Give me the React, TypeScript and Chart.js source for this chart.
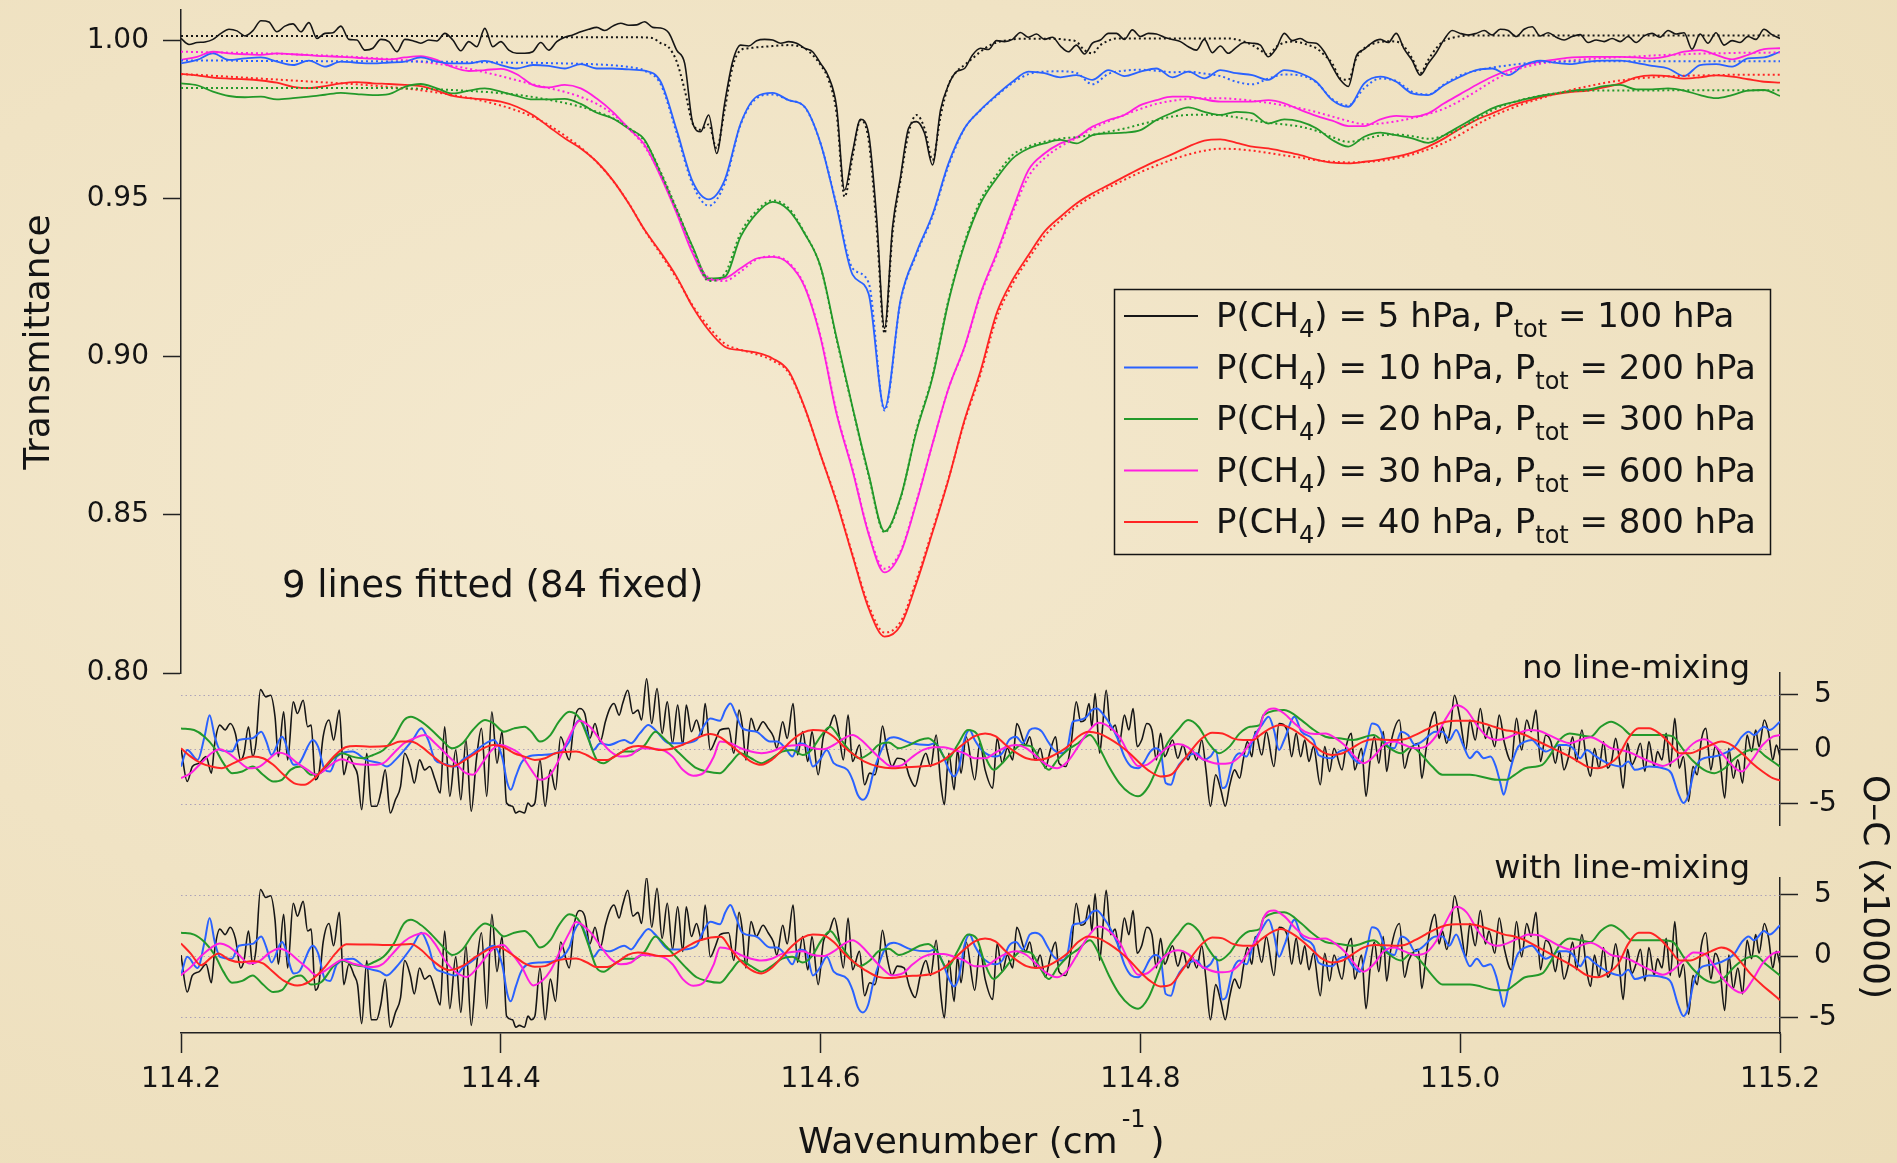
import React, { useEffect, useRef } from 'react';
import { Chart, registerables } from 'chart.js';

Chart.register(...registerables);

const W = 1897;
const H = 1163;
const FONT = '"DejaVu Sans", "Open Sans", sans-serif';
const INK = '#141414';

const C_BLACK = '#161616';
const C_BLUE = '#2a62ff';
const C_GREEN = '#23992a';
const C_MAGENTA = '#ff1fe0';
const C_RED = '#ff2424';

const X_MIN = 114.2;
const X_MAX = 115.2;
const xTicks = [114.2, 114.4, 114.6, 114.8, 115.0, 115.2];
const transTicks = [0.8, 0.85, 0.9, 0.95, 1.0];
const ocTicks = [-5, 0, 5];

const legendPCH4 = ['5', '10', '20', '30', '40'];
const legendPtot = ['100', '200', '300', '600', '800'];

// sampling grids of the transmittance spectra (cm-1)
const wnCoarse = Array.from({ length: 101 }, (_, i) => Math.round((114.2 + i * 0.01) * 1000) / 1000);
const wnFine = Array.from({ length: 201 }, (_, i) => Math.round((114.2 + i * 0.005) * 10000) / 10000);

// ---------- Transmittance, P(CH4)=5 hPa (fine grid) ----------
const transBlackObs = [
  1.0007, 0.9988, 0.9994, 0.9996, 1.0004, 1.0023, 1.0036, 1.0031, 1.0015, 1.0032,
  1.0063, 1.0059, 1.0028, 1.0046, 1.0053, 1.0028, 1.0057, 1.0007, 1.0023, 1.0025,
  1.0046, 1.0004, 1.0002, 0.9970, 0.9976, 1.0004, 0.9997, 0.9965, 1.0004, 1.0000,
  0.9992, 1.0002, 0.9999, 1.0023, 1.0002, 0.9968, 0.9997, 0.9981, 1.0039, 0.9981,
  0.9997, 0.9970, 0.9960, 0.9960, 0.9965, 0.9994, 0.9970, 0.9997, 1.0011, 1.0018,
  1.0028, 1.0036, 1.0042, 1.0032, 1.0046, 1.0055, 1.0049, 1.0050, 1.0060, 1.0042,
  1.0040, 1.0025, 0.9970, 0.9928, 0.9740, 0.9712, 0.9765, 0.9643, 0.9802, 0.9934,
  0.9986, 0.9983, 1.0000, 1.0004, 1.0002, 0.9992, 0.9997, 0.9992, 0.9976, 0.9965,
  0.9928, 0.9886, 0.9791, 0.9527, 0.9649, 0.9751, 0.9707, 0.9443, 0.9090, 0.9411,
  0.9570, 0.9723, 0.9744, 0.9707, 0.9607, 0.9781, 0.9860, 0.9902, 0.9912, 0.9955,
  0.9976, 0.9972, 1.0000, 0.9997, 1.0004, 1.0026, 1.0011, 1.0021, 1.0004, 1.0011,
  0.9983, 0.9965, 0.9986, 0.9958, 0.9992, 1.0002, 1.0023, 1.0023, 1.0004, 1.0034,
  1.0013, 1.0023, 1.0021, 1.0011, 1.0004, 0.9997, 0.9981, 0.9970, 1.0004, 0.9962,
  0.9983, 0.9960, 0.9979, 0.9994, 0.9992, 0.9986, 0.9949, 0.9976, 1.0023, 1.0000,
  1.0007, 0.9994, 0.9992, 0.9965, 0.9918, 0.9876, 0.9855, 0.9951, 0.9973, 0.9994,
  1.0004, 0.9994, 1.0023, 0.9973, 0.9937, 0.9891, 0.9928, 0.9962, 1.0004, 1.0032,
  1.0023, 1.0018, 1.0023, 1.0032, 1.0018, 1.0036, 1.0032, 1.0013, 1.0036, 1.0044,
  1.0015, 1.0025, 1.0011, 1.0002, 1.0013, 1.0019, 0.9994, 1.0002, 0.9997, 1.0007,
  0.9997, 1.0013, 0.9994, 1.0015, 1.0023, 1.0011, 1.0032, 1.0021, 1.0025, 0.9973,
  1.0021, 0.9992, 1.0025, 0.9986, 1.0000, 0.9994, 1.0013, 1.0004, 1.0036, 1.0019,
  1.0007,
];
const transBlackFit = [
  1.0015, 1.0015, 1.0015, 1.0015, 1.0015, 1.0015, 1.0015, 1.0015, 1.0015, 1.0015,
  1.0015, 1.0015, 1.0015, 1.0015, 1.0015, 1.0015, 1.0015, 1.0015, 1.0015, 1.0015,
  1.0015, 1.0015, 1.0015, 1.0015, 1.0015, 1.0015, 1.0015, 1.0015, 1.0015, 1.0015,
  1.0015, 1.0015, 1.0015, 1.0015, 1.0015, 1.0015, 1.0015, 1.0015, 1.0014, 1.0014,
  1.0014, 1.0013, 1.0013, 1.0013, 1.0013, 1.0013, 1.0013, 1.0013, 1.0011, 1.0011,
  1.0011, 1.0011, 1.0011, 1.0011, 1.0011, 1.0011, 1.0011, 1.0011, 1.0010, 1.0008,
  0.9992, 0.9979, 0.9934, 0.9844, 0.9738, 0.9718, 0.9735, 0.9660, 0.9781, 0.9918,
  0.9970, 0.9976, 0.9979, 0.9981, 0.9983, 0.9985, 0.9986, 0.9984, 0.9976, 0.9955,
  0.9923, 0.9876, 0.9770, 0.9506, 0.9633, 0.9749, 0.9686, 0.9411, 0.9074, 0.9391,
  0.9559, 0.9707, 0.9765, 0.9723, 0.9622, 0.9760, 0.9860, 0.9902, 0.9923, 0.9944,
  0.9965, 0.9983, 0.9994, 1.0000, 1.0004, 1.0006, 1.0006, 1.0006, 1.0006, 1.0006,
  1.0005, 1.0002, 0.9997, 0.9970, 0.9960, 0.9986, 1.0000, 1.0007, 1.0007, 1.0007,
  1.0007, 1.0007, 1.0007, 1.0007, 1.0007, 1.0007, 1.0007, 1.0007, 1.0007, 1.0007,
  1.0007, 1.0007, 1.0004, 0.9997, 0.9986, 0.9970, 0.9955, 0.9981, 0.9994, 0.9997,
  0.9994, 0.9986, 0.9976, 0.9955, 0.9928, 0.9881, 0.9876, 0.9944, 0.9976, 0.9989,
  0.9996, 0.9998, 0.9997, 0.9981, 0.9944, 0.9897, 0.9939, 0.9976, 1.0000, 1.0009,
  1.0014, 1.0016, 1.0016, 1.0016, 1.0016, 1.0016, 1.0016, 1.0016, 1.0016, 1.0016,
  1.0016, 1.0016, 1.0016, 1.0016, 1.0016, 1.0016, 1.0016, 1.0016, 1.0016, 1.0016,
  1.0016, 1.0016, 1.0016, 1.0016, 1.0016, 1.0016, 1.0016, 1.0016, 1.0016, 1.0016,
  1.0016, 1.0016, 1.0016, 1.0016, 1.0016, 1.0016, 1.0016, 1.0016, 1.0016, 1.0016,
  1.0016,
];

// ---------- Transmittance, coarse grid ----------
const transBlueObs = [
  0.9928, 0.9939, 0.9960, 0.9939, 0.9944, 0.9947, 0.9934, 0.9923, 0.9937, 0.9918,
  0.9934, 0.9930, 0.9928, 0.9931, 0.9934, 0.9947, 0.9934, 0.9928, 0.9928, 0.9936,
  0.9923, 0.9912, 0.9923, 0.9920, 0.9912, 0.9926, 0.9912, 0.9912, 0.9909, 0.9905,
  0.9870, 0.9717, 0.9554, 0.9498, 0.9559, 0.9738, 0.9823, 0.9835, 0.9812, 0.9791,
  0.9675, 0.9475, 0.9260, 0.9200, 0.8836, 0.9180, 0.9330, 0.9450, 0.9612, 0.9723,
  0.9781, 0.9828, 0.9870, 0.9902, 0.9897, 0.9884, 0.9891, 0.9876, 0.9907, 0.9888,
  0.9902, 0.9912, 0.9884, 0.9902, 0.9881, 0.9907, 0.9897, 0.9891, 0.9876, 0.9907,
  0.9897, 0.9870, 0.9812, 0.9791, 0.9865, 0.9886, 0.9870, 0.9833, 0.9828, 0.9860,
  0.9886, 0.9907, 0.9912, 0.9891, 0.9923, 0.9937, 0.9930, 0.9926, 0.9934, 0.9937,
  0.9937, 0.9930, 0.9920, 0.9912, 0.9888, 0.9923, 0.9926, 0.9918, 0.9944, 0.9947,
  0.9965,
];
const transBlueFit = [
  0.9937, 0.9937, 0.9937, 0.9937, 0.9936, 0.9936, 0.9936, 0.9936, 0.9936, 0.9935,
  0.9935, 0.9935, 0.9935, 0.9934, 0.9934, 0.9934, 0.9933, 0.9933, 0.9932, 0.9932,
  0.9931, 0.9930, 0.9930, 0.9929, 0.9928, 0.9927, 0.9925, 0.9922, 0.9917, 0.9905,
  0.9862, 0.9708, 0.9545, 0.9478, 0.9548, 0.9735, 0.9818, 0.9830, 0.9812, 0.9790,
  0.9675, 0.9480, 0.9280, 0.9235, 0.8830, 0.9175, 0.9325, 0.9445, 0.9605, 0.9722,
  0.9780, 0.9825, 0.9866, 0.9894, 0.9902, 0.9903, 0.9898, 0.9862, 0.9895, 0.9905,
  0.9908, 0.9905, 0.9900, 0.9902, 0.9896, 0.9888, 0.9870, 0.9862, 0.9880, 0.9893,
  0.9890, 0.9868, 0.9815, 0.9795, 0.9850, 0.9880, 0.9872, 0.9838, 0.9830, 0.9862,
  0.9890, 0.9905, 0.9915, 0.9922, 0.9928, 0.9932, 0.9933, 0.9934, 0.9934, 0.9935,
  0.9935, 0.9935, 0.9935, 0.9935, 0.9935, 0.9935, 0.9935, 0.9935, 0.9935, 0.9935,
  0.9935,
];
const transGreenObs = [
  0.9865, 0.9859, 0.9839, 0.9825, 0.9821, 0.9823, 0.9814, 0.9818, 0.9823, 0.9829,
  0.9835, 0.9831, 0.9828, 0.9831, 0.9854, 0.9863, 0.9849, 0.9833, 0.9842, 0.9849,
  0.9839, 0.9825, 0.9814, 0.9814, 0.9816, 0.9800, 0.9772, 0.9754, 0.9722, 0.9686,
  0.9580, 0.9464, 0.9348, 0.9248, 0.9253, 0.9380, 0.9454, 0.9490, 0.9464, 0.9390,
  0.9285, 0.9060, 0.8840, 0.8630, 0.8448, 0.8555, 0.8765, 0.8935, 0.9175, 0.9355,
  0.9485, 0.9564, 0.9627, 0.9659, 0.9675, 0.9686, 0.9675, 0.9701, 0.9707, 0.9709,
  0.9717, 0.9749, 0.9772, 0.9789, 0.9775, 0.9765, 0.9775, 0.9770, 0.9738, 0.9751,
  0.9744, 0.9723, 0.9686, 0.9665, 0.9696, 0.9709, 0.9701, 0.9691, 0.9677, 0.9701,
  0.9730, 0.9759, 0.9786, 0.9802, 0.9814, 0.9825, 0.9833, 0.9842, 0.9846, 0.9856,
  0.9860, 0.9846, 0.9846, 0.9849, 0.9842, 0.9828, 0.9818, 0.9828, 0.9842, 0.9844,
  0.9825,
];
const transGreenFit = [
  0.9850, 0.9850, 0.9850, 0.9850, 0.9850, 0.9850, 0.9850, 0.9850, 0.9850, 0.9850,
  0.9850, 0.9850, 0.9850, 0.9850, 0.9849, 0.9848, 0.9846, 0.9844, 0.9841, 0.9838,
  0.9834, 0.9829, 0.9822, 0.9813, 0.9803, 0.9791, 0.9775, 0.9755, 0.9724, 0.9682,
  0.9585, 0.9468, 0.9345, 0.9240, 0.9262, 0.9392, 0.9462, 0.9495, 0.9470, 0.9392,
  0.9283, 0.9055, 0.8838, 0.8625, 0.8445, 0.8552, 0.8770, 0.8940, 0.9180, 0.9362,
  0.9495, 0.9575, 0.9638, 0.9665, 0.9680, 0.9690, 0.9695, 0.9702, 0.9712, 0.9722,
  0.9735, 0.9748, 0.9760, 0.9765, 0.9766, 0.9764, 0.9758, 0.9748, 0.9740, 0.9735,
  0.9728, 0.9715, 0.9695, 0.9680, 0.9688, 0.9700, 0.9703, 0.9698, 0.9690, 0.9700,
  0.9722, 0.9752, 0.9780, 0.9800, 0.9815, 0.9826, 0.9834, 0.9840, 0.9842, 0.9842,
  0.9842, 0.9842, 0.9842, 0.9843, 0.9843, 0.9843, 0.9843, 0.9843, 0.9843, 0.9843,
  0.9843,
];
const transMagentaObs = [
  0.9939, 0.9949, 0.9965, 0.9960, 0.9957, 0.9955, 0.9960, 0.9957, 0.9954, 0.9951,
  0.9949, 0.9946, 0.9943, 0.9941, 0.9947, 0.9951, 0.9939, 0.9916, 0.9904, 0.9907,
  0.9911, 0.9894, 0.9860, 0.9852, 0.9860, 0.9849, 0.9817, 0.9775, 0.9722, 0.9670,
  0.9570, 0.9454, 0.9327, 0.9243, 0.9248, 0.9280, 0.9311, 0.9316, 0.9295, 0.9222,
  0.9060, 0.8820, 0.8640, 0.8440, 0.8318, 0.8380, 0.8540, 0.8725, 0.8900, 0.9032,
  0.9200, 0.9327, 0.9464, 0.9591, 0.9643, 0.9675, 0.9694, 0.9728, 0.9749, 0.9765,
  0.9796, 0.9812, 0.9823, 0.9823, 0.9814, 0.9807, 0.9807, 0.9807, 0.9812, 0.9802,
  0.9781, 0.9762, 0.9747, 0.9730, 0.9730, 0.9751, 0.9762, 0.9759, 0.9770, 0.9802,
  0.9831, 0.9860, 0.9886, 0.9907, 0.9923, 0.9934, 0.9941, 0.9947, 0.9949, 0.9949,
  0.9949, 0.9947, 0.9944, 0.9951, 0.9965, 0.9970, 0.9955, 0.9941, 0.9955, 0.9973,
  0.9976,
];
const transMagentaFit = [
  0.9965, 0.9964, 0.9963, 0.9962, 0.9961, 0.9960, 0.9959, 0.9957, 0.9955, 0.9953,
  0.9951, 0.9948, 0.9945, 0.9942, 0.9938, 0.9933, 0.9927, 0.9920, 0.9911, 0.9900,
  0.9888, 0.9875, 0.9862, 0.9850, 0.9838, 0.9822, 0.9800, 0.9768, 0.9722, 0.9665,
  0.9575, 0.9460, 0.9335, 0.9250, 0.9240, 0.9270, 0.9308, 0.9318, 0.9298, 0.9225,
  0.9065, 0.8825, 0.8645, 0.8445, 0.8330, 0.8385, 0.8545, 0.8725, 0.8900, 0.9030,
  0.9195, 0.9320, 0.9455, 0.9570, 0.9628, 0.9665, 0.9692, 0.9722, 0.9745, 0.9765,
  0.9784, 0.9800, 0.9810, 0.9816, 0.9818, 0.9818, 0.9815, 0.9810, 0.9803, 0.9795,
  0.9786, 0.9774, 0.9760, 0.9746, 0.9736, 0.9738, 0.9745, 0.9755, 0.9768, 0.9785,
  0.9810, 0.9840, 0.9872, 0.9898, 0.9916, 0.9927, 0.9934, 0.9938, 0.9942, 0.9945,
  0.9948, 0.9950, 0.9953, 0.9955, 0.9957, 0.9959, 0.9960, 0.9961, 0.9962, 0.9962,
  0.9963,
];
const transRedObs = [
  0.9895, 0.9890, 0.9883, 0.9880, 0.9878, 0.9874, 0.9867, 0.9854, 0.9850, 0.9856,
  0.9865, 0.9869, 0.9865, 0.9863, 0.9860, 0.9856, 0.9842, 0.9825, 0.9818, 0.9814,
  0.9807, 0.9791, 0.9765, 0.9728, 0.9691, 0.9659, 0.9617, 0.9559, 0.9485, 0.9401,
  0.9330, 0.9253, 0.9158, 0.9084, 0.9032, 0.9021, 0.9013, 0.8995, 0.8955, 0.8840,
  0.8690, 0.8540, 0.8370, 0.8205, 0.8115, 0.8150, 0.8285, 0.8445, 0.8612, 0.8800,
  0.8955, 0.9137, 0.9243, 0.9322, 0.9396, 0.9443, 0.9485, 0.9517, 0.9543, 0.9570,
  0.9596, 0.9620, 0.9641, 0.9665, 0.9684, 0.9688, 0.9677, 0.9665, 0.9659, 0.9649,
  0.9638, 0.9624, 0.9614, 0.9612, 0.9617, 0.9624, 0.9633, 0.9646, 0.9665, 0.9691,
  0.9722, 0.9749, 0.9770, 0.9791, 0.9807, 0.9821, 0.9831, 0.9838, 0.9842, 0.9852,
  0.9865, 0.9884, 0.9890, 0.9888, 0.9880, 0.9884, 0.9890, 0.9886, 0.9878, 0.9870,
  0.9867,
];
const transRedFit = [
  0.9894, 0.9892, 0.9889, 0.9886, 0.9883, 0.9880, 0.9877, 0.9874, 0.9871, 0.9868,
  0.9865, 0.9862, 0.9858, 0.9854, 0.9849, 0.9843, 0.9836, 0.9828, 0.9819, 0.9808,
  0.9795, 0.9779, 0.9759, 0.9733, 0.9700, 0.9662, 0.9616, 0.9558, 0.9486, 0.9400,
  0.9325, 0.9248, 0.9162, 0.9095, 0.9042, 0.9022, 0.9008, 0.8988, 0.8950, 0.8838,
  0.8690, 0.8545, 0.8375, 0.8215, 0.8128, 0.8162, 0.8295, 0.8452, 0.8615, 0.8795,
  0.8945, 0.9122, 0.9230, 0.9310, 0.9382, 0.9432, 0.9475, 0.9508, 0.9535, 0.9560,
  0.9584, 0.9605, 0.9624, 0.9640, 0.9652, 0.9658, 0.9657, 0.9652, 0.9645, 0.9637,
  0.9630, 0.9622, 0.9617, 0.9615, 0.9616, 0.9620, 0.9628, 0.9640, 0.9656, 0.9677,
  0.9703, 0.9733, 0.9760, 0.9782, 0.9801, 0.9817, 0.9832, 0.9845, 0.9856, 0.9866,
  0.9874, 0.9880, 0.9884, 0.9887, 0.9889, 0.9890, 0.9891, 0.9892, 0.9892, 0.9892,
  0.9892,
];

// ---------- Residuals O-C (x1000): [wavenumber, value] ----------
const resBlack: number[][] = [
  [114.2000,0.09],[114.2039,-2.94],[114.2071,-1.58],[114.2114,-1.27],[114.2157,-0.67],[114.2190,-2.18],[114.2211,0.55],[114.2243,2.21],[114.2276,1.76],[114.2308,2.36],
  [114.2340,1.45],[114.2373,-0.97],[114.2394,-0.36],[114.2422,2.06],[114.2448,-0.67],[114.2469,0.55],[114.2497,5.45],[114.2530,4.79],[114.2560,4.94],[114.2588,2.97],
  [114.2609,-0.67],[114.2642,3.42],[114.2667,-0.97],[114.2702,4.33],[114.2728,3.27],[114.2764,4.48],[114.2792,2.06],[114.2814,2.21],[114.2840,-2.79],[114.2863,-2.18],
  [114.2889,1.15],[114.2926,2.67],[114.2954,0.85],[114.2990,3.58],[114.3018,-2.33],[114.3050,-0.67],[114.3083,-1.58],[114.3104,-2.33],[114.3130,-5.52],[114.3162,-0.36],
  [114.3190,-5.21],[114.3223,-5.21],[114.3249,-4.00],[114.3277,-1.88],[114.3309,-5.82],[114.3341,-4.61],[114.3373,-3.39],[114.3399,-0.36],[114.3434,-1.58],[114.3459,-3.09],
  [114.3492,-0.97],[114.3524,-1.88],[114.3556,-1.58],[114.3589,-2.79],[114.3621,-4.00],[114.3649,2.06],[114.3681,-4.30],[114.3718,-0.06],[114.3750,-4.61],[114.3782,0.85],
  [114.3815,-5.67],[114.3847,-0.97],[114.3879,1.91],[114.3912,-4.30],[114.3944,3.42],[114.3976,-1.27],[114.4008,1.61],[114.4036,-4.91],[114.4073,-5.21],[114.4094,-5.82],
  [114.4116,-5.67],[114.4148,-5.82],[114.4170,-4.91],[114.4191,-5.21],[114.4213,-4.91],[114.4245,-0.97],[114.4277,-5.21],[114.4310,-1.88],[114.4342,-3.70],[114.4374,1.15],
  [114.4428,-0.97],[114.4460,2.67],[114.4493,3.73],[114.4525,3.27],[114.4557,1.00],[114.4589,2.36],[114.4622,0.70],[114.4654,2.52],[114.4682,3.73],[114.4708,4.18],
  [114.4740,3.12],[114.4762,4.18],[114.4794,5.39],[114.4826,3.27],[114.4858,3.58],[114.4880,2.67],[114.4912,6.45],[114.4944,2.36],[114.4977,5.55],[114.5009,1.45],
  [114.5041,4.33],[114.5074,0.55],[114.5106,4.03],[114.5138,0.39],[114.5160,4.03],[114.5192,1.61],[114.5224,2.67],[114.5257,1.30],[114.5278,4.18],[114.5310,-0.06],
  [114.5343,0.85],[114.5371,1.76],[114.5425,1.91],[114.5457,-0.36],[114.5490,3.58],[114.5511,2.06],[114.5533,-0.97],[114.5565,2.82],[114.5597,1.61],[114.5640,2.52],
  [114.5672,1.91],[114.5705,1.15],[114.5726,0.09],[114.5763,2.52],[114.5791,1.00],[114.5828,4.18],[114.5856,-0.52],[114.5888,1.61],[114.5920,-1.12],[114.5946,1.61],
  [114.5985,-2.33],[114.6017,1.15],[114.6056,2.06],[114.6086,3.12],[114.6114,1.45],[114.6142,-0.97],[114.6172,3.12],[114.6200,-1.12],[114.6243,0.39],[114.6275,-3.24],
  [114.6307,-2.18],[114.6340,-2.33],[114.6361,-0.97],[114.6387,2.12],[114.6415,-0.06],[114.6447,-1.58],[114.6480,-0.82],[114.6522,-0.97],[114.6555,-2.48],[114.6591,-3.39],
  [114.6624,-1.58],[114.6658,-0.36],[114.6688,-1.58],[114.6723,1.30],[114.6749,-2.79],[114.6774,-5.06],[114.6802,-0.36],[114.6835,-3.70],[114.6856,-0.06],[114.6878,-2.18],
  [114.6910,1.15],[114.6964,-2.79],[114.6996,0.55],[114.7029,-1.88],[114.7076,-3.55],[114.7104,1.00],[114.7136,-1.27],[114.7168,0.09],[114.7201,-0.97],[114.7227,2.36],
  [114.7283,0.39],[114.7308,1.15],[114.7341,-0.97],[114.7373,0.09],[114.7405,-1.73],[114.7437,-0.06],[114.7470,1.15],[114.7491,-1.27],[114.7534,-1.58],[114.7567,0.55],
  [114.7599,4.33],[114.7627,2.52],[114.7653,2.67],[114.7679,4.18],[114.7696,2.06],[114.7717,5.09],[114.7745,-0.36],[114.7760,1.45],[114.7786,5.39],[114.7814,1.76],
  [114.7842,2.21],[114.7868,0.55],[114.7900,3.12],[114.7928,1.76],[114.7954,3.73],[114.7980,0.24],[114.8008,0.85],[114.8040,2.36],[114.8072,1.76],[114.8100,-0.97],
  [114.8126,1.45],[114.8152,-0.67],[114.8201,0.85],[114.8234,-0.82],[114.8266,0.39],[114.8298,-0.97],[114.8324,-0.06],[114.8352,-0.97],[114.8384,0.85],[114.8410,-1.88],
  [114.8438,-5.21],[114.8471,-2.33],[114.8503,-3.70],[114.8531,-5.21],[114.8557,-3.39],[114.8589,-1.88],[114.8621,-2.64],[114.8643,-0.97],[114.8669,0.70],[114.8697,-0.67],
  [114.8718,1.61],[114.8759,-0.52],[114.8787,1.61],[114.8835,-1.58],[114.8867,2.36],[114.8921,1.61],[114.8946,-0.67],[114.8974,1.45],[114.9002,-0.67],[114.9028,0.85],
  [114.9054,-1.12],[114.9082,0.24],[114.9125,-3.24],[114.9153,0.24],[114.9183,-2.03],[114.9211,0.09],[114.9261,-1.88],[114.9286,0.24],[114.9319,1.45],[114.9340,-1.88],
  [114.9383,0.09],[114.9411,-4.30],[114.9437,-0.97],[114.9463,1.15],[114.9491,-1.27],[114.9519,1.61],[114.9540,-2.03],[114.9566,0.55],[114.9620,2.67],[114.9652,-1.73],
  [114.9678,-0.36],[114.9738,0.55],[114.9760,-2.64],[114.9786,-0.06],[114.9814,2.36],[114.9842,3.42],[114.9868,1.00],[114.9889,2.06],[114.9915,0.55],[114.9939,1.91],
  [114.9964,4.94],[114.9997,2.97],[115.0035,-0.06],[115.0061,2.67],[115.0094,0.85],[115.0126,3.73],[115.0158,1.00],[115.0180,2.06],[115.0216,0.24],[115.0244,3.12],
  [115.0277,0.55],[115.0320,-1.12],[115.0352,2.82],[115.0384,-0.06],[115.0416,2.67],[115.0444,1.61],[115.0474,3.58],[115.0502,-1.12],[115.0535,1.30],[115.0567,0.70],
  [115.0595,-1.27],[115.0621,0.39],[115.0649,-1.88],[115.0675,-0.82],[115.0703,1.15],[115.0728,-1.12],[115.0761,1.76],[115.0789,-0.97],[115.0815,-2.48],[115.0840,0.09],
  [115.0868,-1.73],[115.0896,0.70],[115.0922,-1.73],[115.0948,-0.97],[115.0972,1.00],[115.0997,-1.12],[115.1019,-3.55],[115.1047,0.55],[115.1073,-1.42],[115.1099,-0.67],
  [115.1127,0.55],[115.1155,-2.03],[115.1180,0.70],[115.1213,-1.58],[115.1234,-0.21],[115.1262,-0.97],[115.1288,1.45],[115.1314,-1.58],[115.1342,2.82],[115.1370,-1.73],
  [115.1396,-0.67],[115.1428,-4.76],[115.1456,-1.58],[115.1482,-2.33],[115.1508,0.85],[115.1536,1.91],[115.1568,-1.88],[115.1594,0.24],[115.1622,-0.67],[115.1654,-4.45],
  [115.1680,0.09],[115.1708,-2.64],[115.1736,-0.97],[115.1766,-3.09],[115.1794,1.30],[115.1822,-0.21],[115.1848,1.76],[115.1869,0.24],[115.1902,2.67],[115.1929,1.45],
  [115.1955,-0.97],[115.1977,0.39],[115.2000,-0.67],
];
const resBlue: number[][] = [
  [114.2000,-1.58],[114.2039,-0.06],[114.2104,-0.97],[114.2147,1.15],[114.2179,3.12],[114.2211,1.15],[114.2244,-0.06],[114.2319,-0.21],[114.2362,0.85],[114.2448,1.00],
  [114.2502,1.61],[114.2534,0.70],[114.2566,-0.52],[114.2631,1.15],[114.2706,-1.42],[114.2739,-1.27],[114.2825,0.85],[114.2857,0.24],[114.2900,-1.88],[114.2932,-2.03],
  [114.2975,-0.67],[114.3072,-0.21],[114.3158,-0.97],[114.3244,-1.27],[114.3287,-1.58],[114.3341,-0.97],[114.3449,0.85],[114.3503,1.91],[114.3546,0.85],[114.3589,-0.97],
  [114.3632,-1.27],[114.3718,-1.58],[114.3761,-0.97],[114.3825,-0.36],[114.3890,0.39],[114.3955,0.85],[114.4008,-0.67],[114.4041,-3.09],[114.4062,-3.70],[114.4094,-2.48],
  [114.4127,-1.27],[114.4170,-0.67],[114.4256,-0.52],[114.4342,-0.36],[114.4428,0.70],[114.4460,2.06],[114.4493,2.67],[114.4536,1.61],[114.4579,-0.06],[114.4622,0.55],
  [114.4675,0.39],[114.4772,0.85],[114.4815,0.55],[114.4869,1.45],[114.4923,2.21],[114.4966,1.76],[114.5052,0.55],[114.5138,0.55],[114.5224,0.85],[114.5267,2.06],
  [114.5310,2.82],[114.5371,2.60],[114.5404,3.58],[114.5436,4.18],[114.5468,3.27],[114.5511,1.91],[114.5597,1.61],[114.5684,0.70],[114.5727,0.70],[114.5780,0.09],
  [114.5823,-0.67],[114.5866,0.55],[114.5909,0.39],[114.5952,-1.58],[114.5995,-0.97],[114.6039,-0.06],[114.6082,-1.27],[114.6168,-1.88],[114.6200,-2.79],[114.6232,-4.15],
  [114.6265,-4.61],[114.6297,-4.00],[114.6329,-2.18],[114.6372,-0.36],[114.6415,0.85],[114.6458,1.09],[114.6566,0.55],[114.6673,0.39],[114.6716,0.55],[114.6759,-0.36],
  [114.6803,-1.88],[114.6835,-2.48],[114.6867,-1.58],[114.6899,0.85],[114.6932,1.76],[114.6964,0.85],[114.7007,-0.06],[114.7093,-0.67],[114.7136,-0.36],[114.7179,0.85],
  [114.7222,1.15],[114.7265,0.55],[114.7308,1.76],[114.7341,1.91],[114.7384,1.61],[114.7416,0.85],[114.7459,-0.06],[114.7502,-0.36],[114.7545,0.24],[114.7577,2.52],
  [114.7620,2.67],[114.7664,2.97],[114.7696,3.58],[114.7728,3.73],[114.7771,3.12],[114.7814,2.21],[114.7857,1.00],[114.7900,-0.67],[114.7943,-1.58],[114.7986,-1.73],
  [114.8019,-1.27],[114.8062,-0.21],[114.8094,0.09],[114.8126,-0.21],[114.8158,-3.09],[114.8191,-3.24],[114.8223,-1.88],[114.8266,-0.97],[114.8352,-0.36],[114.8395,-0.97],
  [114.8438,-0.67],[114.8470,-0.06],[114.8514,-3.55],[114.8535,-3.39],[114.8578,-1.12],[114.8621,-0.36],[114.8664,-0.67],[114.8697,0.55],[114.8716,1.30],[114.8759,2.21],
  [114.8802,2.97],[114.8835,1.76],[114.8867,-0.06],[114.8899,0.85],[114.8964,2.97],[114.9007,1.61],[114.9082,0.85],[114.9114,-0.52],[114.9200,-0.82],[114.9243,-0.21],
  [114.9286,-0.06],[114.9329,-0.82],[114.9373,-1.27],[114.9416,0.55],[114.9448,2.36],[114.9491,2.06],[114.9534,0.55],[114.9588,0.09],[114.9631,1.61],[114.9674,1.30],
  [114.9717,0.39],[114.9760,0.70],[114.9846,1.61],[114.9889,1.61],[114.9932,0.85],[114.9975,1.76],[115.0018,0.39],[115.0061,-0.82],[115.0104,-0.21],[115.0147,-0.82],
  [115.0190,-0.67],[115.0223,-1.58],[115.0251,-3.09],[115.0272,-4.15],[115.0298,-2.79],[115.0330,-0.97],[115.0363,0.24],[115.0406,0.70],[115.0449,0.85],[115.0492,0.24],
  [115.0535,-0.21],[115.0621,0.39],[115.0664,0.39],[115.0707,0.09],[115.0750,-0.82],[115.0793,-0.06],[115.0836,-0.52],[115.0922,-1.27],[115.1008,-1.58],[115.1051,-1.12],
  [115.1094,-1.88],[115.1180,-1.58],[115.1267,-1.73],[115.1320,-2.18],[115.1363,-4.00],[115.1396,-4.91],[115.1428,-4.15],[115.1460,-2.18],[115.1503,-0.97],[115.1589,-0.67],
  [115.1675,-0.21],[115.1718,0.24],[115.1761,1.15],[115.1804,1.61],[115.1837,1.30],[115.1901,2.06],[115.1934,1.76],[115.2000,2.52],
];
const resGreen: number[][] = [
  [114.2000,1.91],[114.2082,1.76],[114.2147,1.15],[114.2211,0.09],[114.2265,-1.27],[114.2319,-2.18],[114.2383,-2.03],[114.2448,-1.58],[114.2513,-2.33],[114.2577,-2.94],
  [114.2631,-2.79],[114.2685,-1.88],[114.2749,-1.58],[114.2814,-2.33],[114.2878,-2.12],[114.2954,-0.82],[114.3008,-0.36],[114.3072,-0.67],[114.3137,-0.82],[114.3201,-0.52],
  [114.3266,-0.06],[114.3330,1.00],[114.3395,2.67],[114.3438,2.97],[114.3503,2.52],[114.3567,1.76],[114.3632,0.85],[114.3696,0.09],[114.3761,0.55],[114.3825,1.76],
  [114.3901,2.67],[114.3955,2.36],[114.4019,1.61],[114.4084,1.91],[114.4148,2.06],[114.4191,1.61],[114.4245,0.70],[114.4310,1.30],[114.4363,2.52],[114.4428,3.42],
  [114.4493,2.82],[114.4546,1.00],[114.4600,-0.97],[114.4643,-1.27],[114.4708,-0.67],[114.4772,-0.21],[114.4837,-0.21],[114.4901,0.39],[114.4966,1.61],[114.5030,0.85],
  [114.5095,-0.06],[114.5160,-0.97],[114.5224,-1.73],[114.5289,-2.03],[114.5371,-2.18],[114.5436,-1.27],[114.5500,-0.36],[114.5565,-0.82],[114.5630,-1.27],[114.5694,-0.82],
  [114.5759,-0.21],[114.5823,-0.06],[114.5888,-0.52],[114.5942,-0.06],[114.6006,1.30],[114.6060,2.06],[114.6114,1.15],[114.6178,-0.06],[114.6243,-0.82],[114.6308,-0.36],
  [114.6361,0.39],[114.6426,0.61],[114.6490,0.09],[114.6555,0.39],[114.6620,0.85],[114.6673,1.00],[114.6727,0.39],[114.6792,-0.97],[114.6856,0.39],[114.6921,1.76],
  [114.6975,1.45],[114.7029,-0.67],[114.7082,-1.88],[114.7136,-1.27],[114.7201,-0.21],[114.7255,0.39],[114.7319,0.24],[114.7373,-0.97],[114.7427,-1.88],[114.7481,-0.97],
  [114.7545,-0.06],[114.7610,0.55],[114.7685,1.30],[114.7739,0.24],[114.7803,-1.58],[114.7868,-3.09],[114.7932,-4.00],[114.7986,-4.30],[114.8051,-3.39],[114.8116,-1.27],
  [114.8169,0.55],[114.8234,1.76],[114.8298,2.67],[114.8363,2.06],[114.8427,0.55],[114.8492,-0.36],[114.8557,0.24],[114.8621,1.45],[114.8686,2.06],[114.8746,2.21],
  [114.8770,3.12],[114.8899,3.58],[114.9007,2.67],[114.9071,1.91],[114.9157,1.15],[114.9243,1.00],[114.9329,0.85],[114.9459,1.30],[114.9545,0.24],[114.9631,-0.36],
  [114.9695,0.24],[114.9760,-0.52],[114.9825,-1.58],[114.9889,-2.33],[115.0061,-2.33],[115.0233,-2.79],[115.0287,-2.79],[115.0341,-2.33],[115.0406,-1.73],[115.0513,-1.42],
  [115.0556,-0.67],[115.0621,0.85],[115.0685,1.45],[115.0815,1.15],[115.0879,2.06],[115.0944,2.52],[115.1008,2.06],[115.1073,1.30],[115.1267,1.30],[115.1331,1.15],
  [115.1396,-0.06],[115.1460,-1.12],[115.1525,-1.88],[115.1589,-2.18],[115.1654,-1.73],[115.1718,-0.82],[115.1783,-0.21],[115.1848,0.00],[115.1912,-0.67],[115.2000,-1.58],
];
const resMagentaNoLM: number[][] = [
  [114.2000,-2.64],[114.2061,-2.18],[114.2125,-1.27],[114.2190,-0.36],[114.2243,0.00],[114.2297,-0.36],[114.2362,-1.12],[114.2426,-1.73],[114.2491,-1.58],[114.2556,-0.82],
  [114.2609,-0.30],[114.2663,-0.52],[114.2728,-1.27],[114.2792,-1.88],[114.2846,-2.33],[114.2900,-1.88],[114.2965,-1.12],[114.3008,-0.91],[114.3072,-1.27],[114.3201,-1.42],
  [114.3266,-1.27],[114.3330,-0.36],[114.3395,0.55],[114.3459,1.00],[114.3524,1.30],[114.3589,0.55],[114.3653,-0.36],[114.3718,-1.27],[114.3782,-2.18],[114.3825,-2.33],
  [114.3890,-1.12],[114.3944,-0.06],[114.3998,0.39],[114.4062,0.09],[114.4127,-0.52],[114.4191,-1.88],[114.4245,-2.79],[114.4310,-2.33],[114.4363,-0.97],[114.4428,1.15],
  [114.4493,2.61],[114.4557,2.06],[114.4622,0.85],[114.4686,-0.21],[114.4751,-0.67],[114.4815,-0.52],[114.4880,0.09],[114.5009,-0.06],[114.5074,-0.67],[114.5138,-1.88],
  [114.5203,-2.42],[114.5267,-2.18],[114.5332,-0.67],[114.5371,0.70],[114.5436,0.55],[114.5500,0.09],[114.5565,-0.21],[114.5630,-0.36],[114.5694,-0.21],[114.5759,0.18],
  [114.5888,0.39],[114.5952,0.09],[114.6017,0.00],[114.6082,0.39],[114.6146,1.00],[114.6200,1.30],[114.6254,0.85],[114.6318,-0.06],[114.6383,-0.97],[114.6447,-1.58],
  [114.6512,-1.42],[114.6576,-0.67],[114.6641,-0.06],[114.6706,0.18],[114.6770,0.18],[114.6835,-0.06],[114.6899,-0.36],[114.6964,-0.82],[114.7029,-0.82],[114.7093,-0.30],
  [114.7158,0.18],[114.7222,0.39],[114.7287,0.09],[114.7351,-0.67],[114.7416,-1.42],[114.7480,-1.73],[114.7545,-1.12],[114.7610,0.24],[114.7674,1.61],[114.7739,2.42],
  [114.7803,2.06],[114.7868,1.15],[114.7932,-0.52],[114.7986,-1.52],[114.8040,-1.42],[114.8105,-0.67],[114.8169,0.18],[114.8234,0.48],[114.8298,0.18],[114.8363,-0.67],
  [114.8427,-1.12],[114.8492,-1.33],[114.8557,-1.27],[114.8621,-0.67],[114.8686,0.55],[114.8746,1.91],[114.8770,3.12],[114.8835,3.73],[114.8899,3.27],[114.8964,2.36],
  [114.9028,1.61],[114.9093,1.39],[114.9157,1.45],[114.9222,1.00],[114.9287,0.24],[114.9351,-0.82],[114.9394,-1.27],[114.9459,-0.67],[114.9523,0.39],[114.9588,0.70],
  [114.9652,0.39],[114.9717,0.09],[114.9782,0.24],[114.9846,1.15],[114.9911,2.82],[114.9975,4.03],[115.0040,3.58],[115.0104,2.21],[115.0169,1.15],[115.0234,0.85],
  [115.0363,1.45],[115.0427,1.76],[115.0492,1.70],[115.0556,1.30],[115.0621,0.85],[115.0686,0.55],[115.0750,0.85],[115.0815,1.09],[115.0879,0.70],[115.0944,0.09],
  [115.1008,-0.06],[115.1073,-0.36],[115.1138,-0.82],[115.1202,-1.21],[115.1267,-1.52],[115.1331,-1.12],[115.1396,-0.36],[115.1460,0.55],[115.1525,0.91],[115.1589,0.39],
  [115.1654,-0.67],[115.1719,-1.73],[115.1762,-2.03],[115.1826,-0.97],[115.1891,0.39],[115.1955,1.15],[115.2000,1.30],
];
const resMagentaLM: number[][] = [
  [114.2000,-1.56],[114.2061,-0.90],[114.2125,0.00],[114.2190,0.70],[114.2243,1.04],[114.2297,0.80],[114.2362,0.10],[114.2426,-0.60],[114.2491,-0.40],[114.2556,0.30],
  [114.2614,0.63],[114.2663,0.40],[114.2728,-0.30],[114.2792,-1.00],[114.2846,-1.56],[114.2900,-1.20],[114.2965,-0.60],[114.3008,-0.30],[114.3072,-0.60],[114.3201,-0.90],
  [114.3266,-0.60],[114.3330,0.30],[114.3395,1.20],[114.3459,1.70],[114.3521,1.86],[114.3589,1.00],[114.3653,-0.40],[114.3718,-1.30],[114.3788,-1.70],[114.3850,-1.00],
  [114.3944,0.50],[114.4015,0.90],[114.4062,0.30],[114.4127,-0.80],[114.4203,-2.40],[114.4260,-2.00],[114.4310,-1.20],[114.4363,0.20],[114.4428,1.90],[114.4470,2.80],
  [114.4557,2.00],[114.4622,0.85],[114.4686,-0.21],[114.4751,-0.67],[114.4815,-0.52],[114.4880,0.09],[114.5009,-0.06],[114.5074,-0.67],[114.5138,-1.88],[114.5203,-2.42],
  [114.5267,-2.18],[114.5332,-0.67],[114.5371,0.70],[114.5436,0.55],[114.5500,0.09],[114.5565,-0.21],[114.5630,-0.36],[114.5694,-0.21],[114.5759,0.18],[114.5888,0.39],
  [114.5952,0.09],[114.6017,0.00],[114.6082,0.39],[114.6146,1.00],[114.6200,1.30],[114.6254,0.85],[114.6318,-0.06],[114.6383,-0.97],[114.6447,-1.58],[114.6512,-1.42],
  [114.6576,-0.67],[114.6641,-0.06],[114.6706,0.18],[114.6770,0.18],[114.6835,-0.06],[114.6899,-0.36],[114.6964,-0.82],[114.7029,-0.82],[114.7093,-0.30],[114.7158,0.18],
  [114.7222,0.39],[114.7287,0.09],[114.7351,-0.67],[114.7416,-1.42],[114.7480,-1.73],[114.7545,-1.12],[114.7610,0.24],[114.7674,1.61],[114.7739,2.42],[114.7803,2.06],
  [114.7868,1.15],[114.7932,-0.52],[114.7986,-1.52],[114.8040,-1.42],[114.8105,-0.67],[114.8169,0.18],[114.8234,0.48],[114.8298,0.18],[114.8363,-0.67],[114.8427,-1.12],
  [114.8492,-1.33],[114.8557,-1.27],[114.8621,-0.67],[114.8686,0.55],[114.8746,1.91],[114.8770,3.12],[114.8835,3.73],[114.8899,3.27],[114.8964,2.36],[114.9028,1.61],
  [114.9093,1.39],[114.9157,1.45],[114.9222,1.00],[114.9287,0.24],[114.9351,-0.82],[114.9394,-1.27],[114.9459,-0.67],[114.9523,0.39],[114.9588,0.70],[114.9652,0.39],
  [114.9717,0.09],[114.9782,0.24],[114.9846,1.15],[114.9911,2.82],[114.9975,4.03],[115.0040,3.58],[115.0104,2.21],[115.0169,1.15],[115.0234,0.85],[115.0363,1.45],
  [115.0427,1.76],[115.0492,1.70],[115.0556,1.30],[115.0621,0.85],[115.0686,0.55],[115.0750,0.85],[115.0815,1.09],[115.0879,0.70],[115.0944,0.09],[115.1008,-0.06],
  [115.1073,-0.36],[115.1138,-0.82],[115.1202,-1.21],[115.1267,-1.52],[115.1331,-1.12],[115.1396,-0.36],[115.1460,0.30],[115.1525,0.20],[115.1589,-0.80],[115.1654,-2.00],
  [115.1719,-2.80],[115.1762,-3.00],[115.1826,-2.00],[115.1891,-0.60],[115.1955,0.20],[115.2000,0.35],
];
const resRedNoLM: number[][] = [
  [114.2000,0.09],[114.2061,-0.67],[114.2125,-1.27],[114.2190,-1.58],[114.2254,-1.73],[114.2319,-1.33],[114.2383,-0.91],[114.2448,-0.67],[114.2513,-0.82],[114.2577,-1.42],
  [114.2642,-2.33],[114.2706,-3.09],[114.2771,-3.24],[114.2835,-2.64],[114.2900,-1.58],[114.2965,-0.52],[114.3029,0.18],[114.3094,0.30],[114.3180,0.24],[114.3287,0.30],
  [114.3373,0.70],[114.3438,0.70],[114.3503,0.24],[114.3567,-0.52],[114.3632,-1.27],[114.3696,-1.58],[114.3761,-1.12],[114.3825,-0.52],[114.3890,0.09],[114.3955,0.39],
  [114.4019,0.18],[114.4084,-0.36],[114.4148,-0.67],[114.4213,-0.97],[114.4277,-0.82],[114.4342,-0.36],[114.4471,-0.21],[114.4536,-0.52],[114.4600,-0.97],[114.4665,-0.97],
  [114.4729,-0.52],[114.4794,0.09],[114.4858,0.30],[114.4923,0.18],[114.4987,-0.06],[114.5052,0.00],[114.5117,0.30],[114.5181,0.70],[114.5246,1.15],[114.5310,1.39],
  [114.5371,1.10],[114.5436,0.39],[114.5500,-0.36],[114.5565,-1.12],[114.5630,-1.42],[114.5694,-0.97],[114.5759,-0.06],[114.5823,0.85],[114.5888,1.52],[114.5952,1.76],
  [114.6017,1.70],[114.6082,1.15],[114.6146,0.24],[114.6211,-0.52],[114.6275,-1.12],[114.6361,-1.58],[114.6447,-1.73],[114.6533,-1.64],[114.6620,-1.58],[114.6706,-1.42],
  [114.6770,-0.97],[114.6835,-0.21],[114.6899,0.55],[114.6964,1.21],[114.7029,1.45],[114.7093,1.21],[114.7158,0.39],[114.7222,-0.30],[114.7287,-0.82],[114.7351,-0.97],
  [114.7416,-0.82],[114.7481,-0.36],[114.7545,0.24],[114.7610,1.15],[114.7674,1.61],[114.7739,1.45],[114.7803,1.00],[114.7868,0.39],[114.7932,-0.36],[114.7997,-1.27],
  [114.8061,-2.03],[114.8126,-2.48],[114.8191,-2.33],[114.8255,-1.27],[114.8320,-0.06],[114.8385,1.00],[114.8449,1.52],[114.8514,1.45],[114.8578,1.00],[114.8643,0.85],
  [114.8707,0.85],[114.8749,1.30],[114.8813,1.91],[114.8878,2.21],[114.8942,1.91],[114.9007,1.30],[114.9071,0.55],[114.9136,-0.21],[114.9201,-0.52],[114.9265,-0.36],
  [114.9330,0.18],[114.9394,0.70],[114.9459,0.91],[114.9588,0.85],[114.9652,0.91],[114.9717,1.30],[114.9782,1.76],[114.9846,2.21],[114.9911,2.52],[114.9975,2.61],
  [115.0061,2.61],[115.0147,2.36],[115.0212,2.06],[115.0277,1.76],[115.0341,1.61],[115.0406,1.30],[115.0470,0.85],[115.0535,0.39],[115.0599,-0.06],[115.0664,-0.52],
  [115.0729,-1.03],[115.0793,-1.58],[115.0858,-1.73],[115.0922,-1.42],[115.0987,-0.67],[115.1051,1.00],[115.1116,1.91],[115.1181,1.91],[115.1245,1.45],[115.1310,0.55],
  [115.1374,-0.36],[115.1439,-0.36],[115.1503,0.00],[115.1568,0.39],[115.1633,0.70],[115.1697,0.39],[115.1762,-0.36],[115.1826,-1.27],[115.1891,-2.03],[115.1955,-2.64],
  [115.2000,-2.85],
];
const resRedLM: number[][] = [
  [114.2000,1.04],[114.2061,0.20],[114.2125,-0.74],[114.2190,-0.10],[114.2234,0.22],[114.2300,-0.30],[114.2380,-0.50],[114.2448,-0.40],[114.2513,-0.60],[114.2577,-1.30],
  [114.2642,-2.00],[114.2727,-2.40],[114.2800,-2.10],[114.2900,-0.90],[114.2965,0.20],[114.3034,0.98],[114.3180,0.95],[114.3317,0.90],[114.3438,1.00],[114.3503,0.50],
  [114.3567,-0.30],[114.3677,-1.15],[114.3761,-0.80],[114.3850,0.00],[114.3977,0.77],[114.4084,0.00],[114.4148,-0.60],[114.4213,-0.87],[114.4277,-0.82],[114.4342,-0.40],
  [114.4471,-0.20],[114.4536,-0.50],[114.4600,-0.90],[114.4665,-0.90],[114.4729,-0.50],[114.4794,0.10],[114.4858,0.30],[114.4923,0.20],[114.4987,0.00],[114.5052,0.00],
  [114.5117,0.40],[114.5181,0.90],[114.5246,1.30],[114.5377,1.58],[114.5436,0.60],[114.5500,-0.40],[114.5565,-1.12],[114.5630,-1.42],[114.5694,-0.97],[114.5759,-0.06],
  [114.5823,0.85],[114.5888,1.52],[114.5952,1.76],[114.6017,1.70],[114.6082,1.15],[114.6146,0.24],[114.6211,-0.52],[114.6275,-1.12],[114.6361,-1.70],[114.6447,-1.80],
  [114.6533,-1.64],[114.6620,-1.58],[114.6706,-1.42],[114.6770,-0.97],[114.6835,-0.21],[114.6899,0.55],[114.6964,1.21],[114.7029,1.45],[114.7093,1.21],[114.7158,0.39],
  [114.7222,-0.30],[114.7287,-0.82],[114.7351,-0.97],[114.7416,-0.82],[114.7481,-0.36],[114.7545,0.24],[114.7610,1.15],[114.7674,1.61],[114.7739,1.45],[114.7803,1.00],
  [114.7868,0.39],[114.7932,-0.36],[114.7997,-1.27],[114.8061,-2.03],[114.8126,-2.48],[114.8191,-2.33],[114.8255,-1.27],[114.8320,-0.06],[114.8385,1.00],[114.8449,1.52],
  [114.8514,1.45],[114.8578,1.00],[114.8643,0.85],[114.8707,0.85],[114.8749,1.30],[114.8813,1.91],[114.8878,2.21],[114.8942,1.91],[114.9007,1.30],[114.9071,0.55],
  [114.9136,-0.21],[114.9201,-0.52],[114.9265,-0.36],[114.9330,0.18],[114.9394,0.70],[114.9459,0.91],[114.9588,0.85],[114.9652,0.91],[114.9717,1.30],[114.9782,1.76],
  [114.9846,2.21],[114.9911,2.52],[114.9975,2.61],[115.0061,2.61],[115.0147,2.36],[115.0212,2.06],[115.0277,1.76],[115.0341,1.61],[115.0406,1.30],[115.0470,0.85],
  [115.0535,0.39],[115.0599,-0.06],[115.0664,-0.52],[115.0729,-1.03],[115.0793,-1.58],[115.0858,-1.73],[115.0922,-1.42],[115.0987,-0.67],[115.1051,1.00],[115.1116,1.91],
  [115.1181,1.91],[115.1245,1.45],[115.1310,0.55],[115.1374,-0.36],[115.1439,-0.36],[115.1503,0.00],[115.1568,0.39],[115.1633,0.70],[115.1697,0.39],[115.1762,-0.60],
  [115.1826,-1.60],[115.1891,-2.40],[115.1955,-3.10],[115.2000,-3.60],
];

// ---------- helpers ----------
const onGrid = (xs: number[], ys: number[]) => ys.map((y, i) => ({ x: xs[i], y }));
const fromPairs = (arr: number[][]) => arr.map(([x, y]) => ({ x, y }));

const lineDs = (label: string, data: any[], color: string, width: number, dotted = false) => ({
  label,
  data,
  borderColor: color,
  backgroundColor: color,
  borderWidth: width,
  borderDash: dotted ? [2, 3] : [],
  pointRadius: 0,
  pointHoverRadius: 0,
  fill: false,
  tension: 0.4,
  cubicInterpolationMode: 'monotone' as const,
});

function drawRich(ctx: CanvasRenderingContext2D, x: number, yBase: number, parts: { t: string; sub?: boolean }[], size: number, subSize: number, subDrop: number) {
  let cx = x;
  for (const p of parts) {
    ctx.font = `${p.sub ? subSize : size}px ${FONT}`;
    ctx.fillText(p.t, cx, yBase + (p.sub ? subDrop : 0));
    cx += ctx.measureText(p.t).width;
  }
}

const dotGridPlugin = {
  id: 'dotGrid',
  beforeDatasetsDraw(chart: any) {
    const { ctx, chartArea } = chart;
    const y = chart.scales.y;
    ctx.save();
    ctx.strokeStyle = 'rgba(150,140,180,0.75)';
    ctx.lineWidth = 1;
    ctx.setLineDash([1.5, 3]);
    ocTicks.forEach((v) => {
      const py = Math.round(y.getPixelForValue(v)) + 0.5;
      ctx.beginPath();
      ctx.moveTo(chartArea.left, py);
      ctx.lineTo(chartArea.right, py);
      ctx.stroke();
    });
    ctx.restore();
  },
};

const topTextPlugin = {
  id: 'topText',
  afterDraw(chart: any) {
    const ctx: CanvasRenderingContext2D = chart.ctx;
    ctx.save();
    ctx.fillStyle = INK;
    ctx.save();
    ctx.translate(40, 342);
    ctx.rotate(-Math.PI / 2);
    ctx.textAlign = 'center';
    ctx.textBaseline = 'middle';
    ctx.font = `36px ${FONT}`;
    ctx.fillText('Transmittance', 0, 0);
    ctx.restore();
    ctx.textAlign = 'left';
    ctx.textBaseline = 'alphabetic';
    ctx.font = `37px ${FONT}`;
    ctx.fillText('9 lines fitted (84 fixed)', 282, 597);
    ctx.strokeStyle = INK;
    ctx.lineWidth = 1.5;
    ctx.strokeRect(1114.5, 289.5, 656, 265);
    const colors = [C_BLACK, C_BLUE, C_GREEN, C_MAGENTA, C_RED];
    for (let k = 0; k < 5; k++) {
      const yc = 316 + 51.5 * k;
      ctx.strokeStyle = colors[k];
      ctx.lineWidth = 2;
      ctx.beginPath();
      ctx.moveTo(1124, yc);
      ctx.lineTo(1198, yc);
      ctx.stroke();
      ctx.fillStyle = INK;
      drawRich(ctx, 1216, yc + 11, [
        { t: 'P(CH' }, { t: '4', sub: true }, { t: `) = ${legendPCH4[k]} hPa, P` }, { t: 'tot', sub: true }, { t: ` = ${legendPtot[k]} hPa` },
      ], 34, 24, 10);
    }
    ctx.restore();
  },
};

const midTextPlugin = {
  id: 'midText',
  afterDraw(chart: any) {
    const ctx: CanvasRenderingContext2D = chart.ctx;
    ctx.save();
    ctx.fillStyle = INK;
    ctx.textAlign = 'right';
    ctx.textBaseline = 'alphabetic';
    ctx.font = `32px ${FONT}`;
    ctx.fillText('no line-mixing', 1750, 678);
    ctx.restore();
  },
};

const lowTextPlugin = {
  id: 'lowText',
  afterDraw(chart: any) {
    const ctx: CanvasRenderingContext2D = chart.ctx;
    ctx.save();
    ctx.fillStyle = INK;
    ctx.textAlign = 'right';
    ctx.textBaseline = 'alphabetic';
    ctx.font = `32px ${FONT}`;
    ctx.fillText('with line-mixing', 1750, 878);
    ctx.textAlign = 'left';
    ctx.font = `36px ${FONT}`;
    const main = 'Wavenumber (cm';
    ctx.fillText(main, 798, 1153);
    let cx = 798 + ctx.measureText(main).width + 4;
    ctx.font = `24px ${FONT}`;
    ctx.fillText('-1', cx, 1127);
    cx += ctx.measureText('-1').width + 5;
    ctx.font = `36px ${FONT}`;
    ctx.fillText(')', cx, 1153);
    ctx.save();
    ctx.translate(1873, 887);
    ctx.rotate(Math.PI / 2);
    ctx.textAlign = 'center';
    ctx.textBaseline = 'middle';
    ctx.font = `36px ${FONT}`;
    ctx.fillText('O\u2013C (x1000)', 0, 0);
    ctx.restore();
    ctx.restore();
  },
};

const noPad = (s: any) => { s.paddingTop = 0; s.paddingBottom = 0; s.paddingLeft = 0; s.paddingRight = 0; };

const hiddenX = { type: 'linear' as const, min: X_MIN, max: X_MAX, display: false };

const axisGrid = (len: number) => ({ drawOnChartArea: false, drawTicks: true, tickLength: len, tickColor: '#222', tickWidth: 1.5, color: '#222' });
const axisBorder = { display: true, color: '#222', width: 1.5 };
const tickFont = { family: FONT, size: 28 };

const ocAxis = (min: number, max: number) => ({
  position: 'right' as const,
  min,
  max,
  afterFit: (s: any) => { s.width = 80; noPad(s); },
  afterBuildTicks: (s: any) => { s.ticks = ocTicks.map((v) => ({ value: v })); },
  ticks: { callback: (v: any) => String(v), font: tickFont, color: INK, padding: 11, crossAlign: 'center' as const },
  grid: axisGrid(18),
  border: axisBorder,
});

const baseOpts = {
  responsive: false,
  maintainAspectRatio: false,
  animation: false as const,
  devicePixelRatio: 1,
  events: [] as any[],
  plugins: { legend: { display: false }, tooltip: { enabled: false }, title: { display: false } },
};

function configTop(): any {
  return {
    type: 'line',
    data: {
      datasets: [
        lineDs('fit 5 hPa', onGrid(wnFine, transBlackFit), C_BLACK, 2, true),
        lineDs('fit 10 hPa', onGrid(wnCoarse, transBlueFit), C_BLUE, 2, true),
        lineDs('fit 20 hPa', onGrid(wnCoarse, transGreenFit), C_GREEN, 2, true),
        lineDs('fit 30 hPa', onGrid(wnCoarse, transMagentaFit), C_MAGENTA, 2, true),
        lineDs('fit 40 hPa', onGrid(wnCoarse, transRedFit), C_RED, 2, true),
        lineDs('P(CH4) = 5 hPa', onGrid(wnFine, transBlackObs), C_BLACK, 1.6),
        lineDs('P(CH4) = 10 hPa', onGrid(wnCoarse, transBlueObs), C_BLUE, 1.8),
        lineDs('P(CH4) = 20 hPa', onGrid(wnCoarse, transGreenObs), C_GREEN, 1.8),
        lineDs('P(CH4) = 30 hPa', onGrid(wnCoarse, transMagentaObs), C_MAGENTA, 1.8),
        lineDs('P(CH4) = 40 hPa', onGrid(wnCoarse, transRedObs), C_RED, 1.8),
      ],
    },
    options: {
      ...baseOpts,
      layout: { padding: { left: 0, right: 117, top: 10, bottom: 490 } },
      scales: {
        x: { ...hiddenX, afterFit: noPad },
        y: {
          position: 'left',
          min: 0.8,
          max: 1.0097,
          afterFit: (s: any) => { s.width = 181; noPad(s); },
          afterBuildTicks: (s: any) => { s.ticks = transTicks.map((v) => ({ value: v })); },
          ticks: { callback: (v: any) => Number(v).toFixed(2), font: tickFont, color: INK, padding: 14 },
          grid: axisGrid(18),
          border: axisBorder,
        },
      },
    },
    plugins: [topTextPlugin],
  };
}

function residualSets(magenta: number[][], red: number[][]) {
  return [
    lineDs('40 hPa', fromPairs(red), C_RED, 2),
    lineDs('30 hPa', fromPairs(magenta), C_MAGENTA, 2),
    lineDs('20 hPa', fromPairs(resGreen), C_GREEN, 2),
    lineDs('10 hPa', fromPairs(resBlue), C_BLUE, 2),
    lineDs('5 hPa', fromPairs(resBlack), C_BLACK, 1.6),
  ];
}

function configMid(): any {
  return {
    type: 'line',
    data: { datasets: residualSets(resMagentaNoLM, resRedNoLM) },
    options: {
      ...baseOpts,
      layout: { padding: { left: 181, right: 37, top: 673, bottom: 338 } },
      scales: { x: { ...hiddenX, afterFit: noPad }, y: ocAxis(-6.92, 6.97) },
    },
    plugins: [dotGridPlugin, midTextPlugin],
  };
}

function configLow(): any {
  return {
    type: 'line',
    data: { datasets: residualSets(resMagentaLM, resRedLM) },
    options: {
      ...baseOpts,
      layout: { padding: { left: 181, right: 37, top: 878, bottom: 0 } },
      scales: {
        x: {
          type: 'linear',
          position: 'bottom',
          min: X_MIN,
          max: X_MAX,
          afterFit: (s: any) => { s.height = 130; noPad(s); },
          afterBuildTicks: (s: any) => { s.ticks = xTicks.map((v) => ({ value: v })); },
          ticks: { callback: (v: any) => Number(v).toFixed(1), font: tickFont, color: INK, padding: 10, maxRotation: 0, autoSkip: false },
          grid: axisGrid(20),
          border: axisBorder,
        },
        y: ocAxis(-6.29, 6.39),
      },
    },
    plugins: [dotGridPlugin, lowTextPlugin],
  };
}

function ChartLayer({ make }: { make: () => any }) {
  const ref = useRef<HTMLCanvasElement | null>(null);
  useEffect(() => {
    if (!ref.current) return;
    const chart = new Chart(ref.current, make());
    return () => chart.destroy();
  }, [make]);
  return (
    <canvas
      ref={ref}
      width={W}
      height={H}
      style={{ position: 'absolute', left: 0, top: 0, width: W, height: H }}
    />
  );
}

export default function App() {
  return (
    <div
      style={{
        position: 'fixed',
        left: 0,
        top: 0,
        width: W,
        height: H,
        overflow: 'hidden',
        background: 'radial-gradient(ellipse at 35% 40%, #f4e9cf 0%, #f0e3c4 50%, #ecddb9 100%)',
      }}
    >
      <ChartLayer make={configTop} />
      <ChartLayer make={configMid} />
      <ChartLayer make={configLow} />
    </div>
  );
}
